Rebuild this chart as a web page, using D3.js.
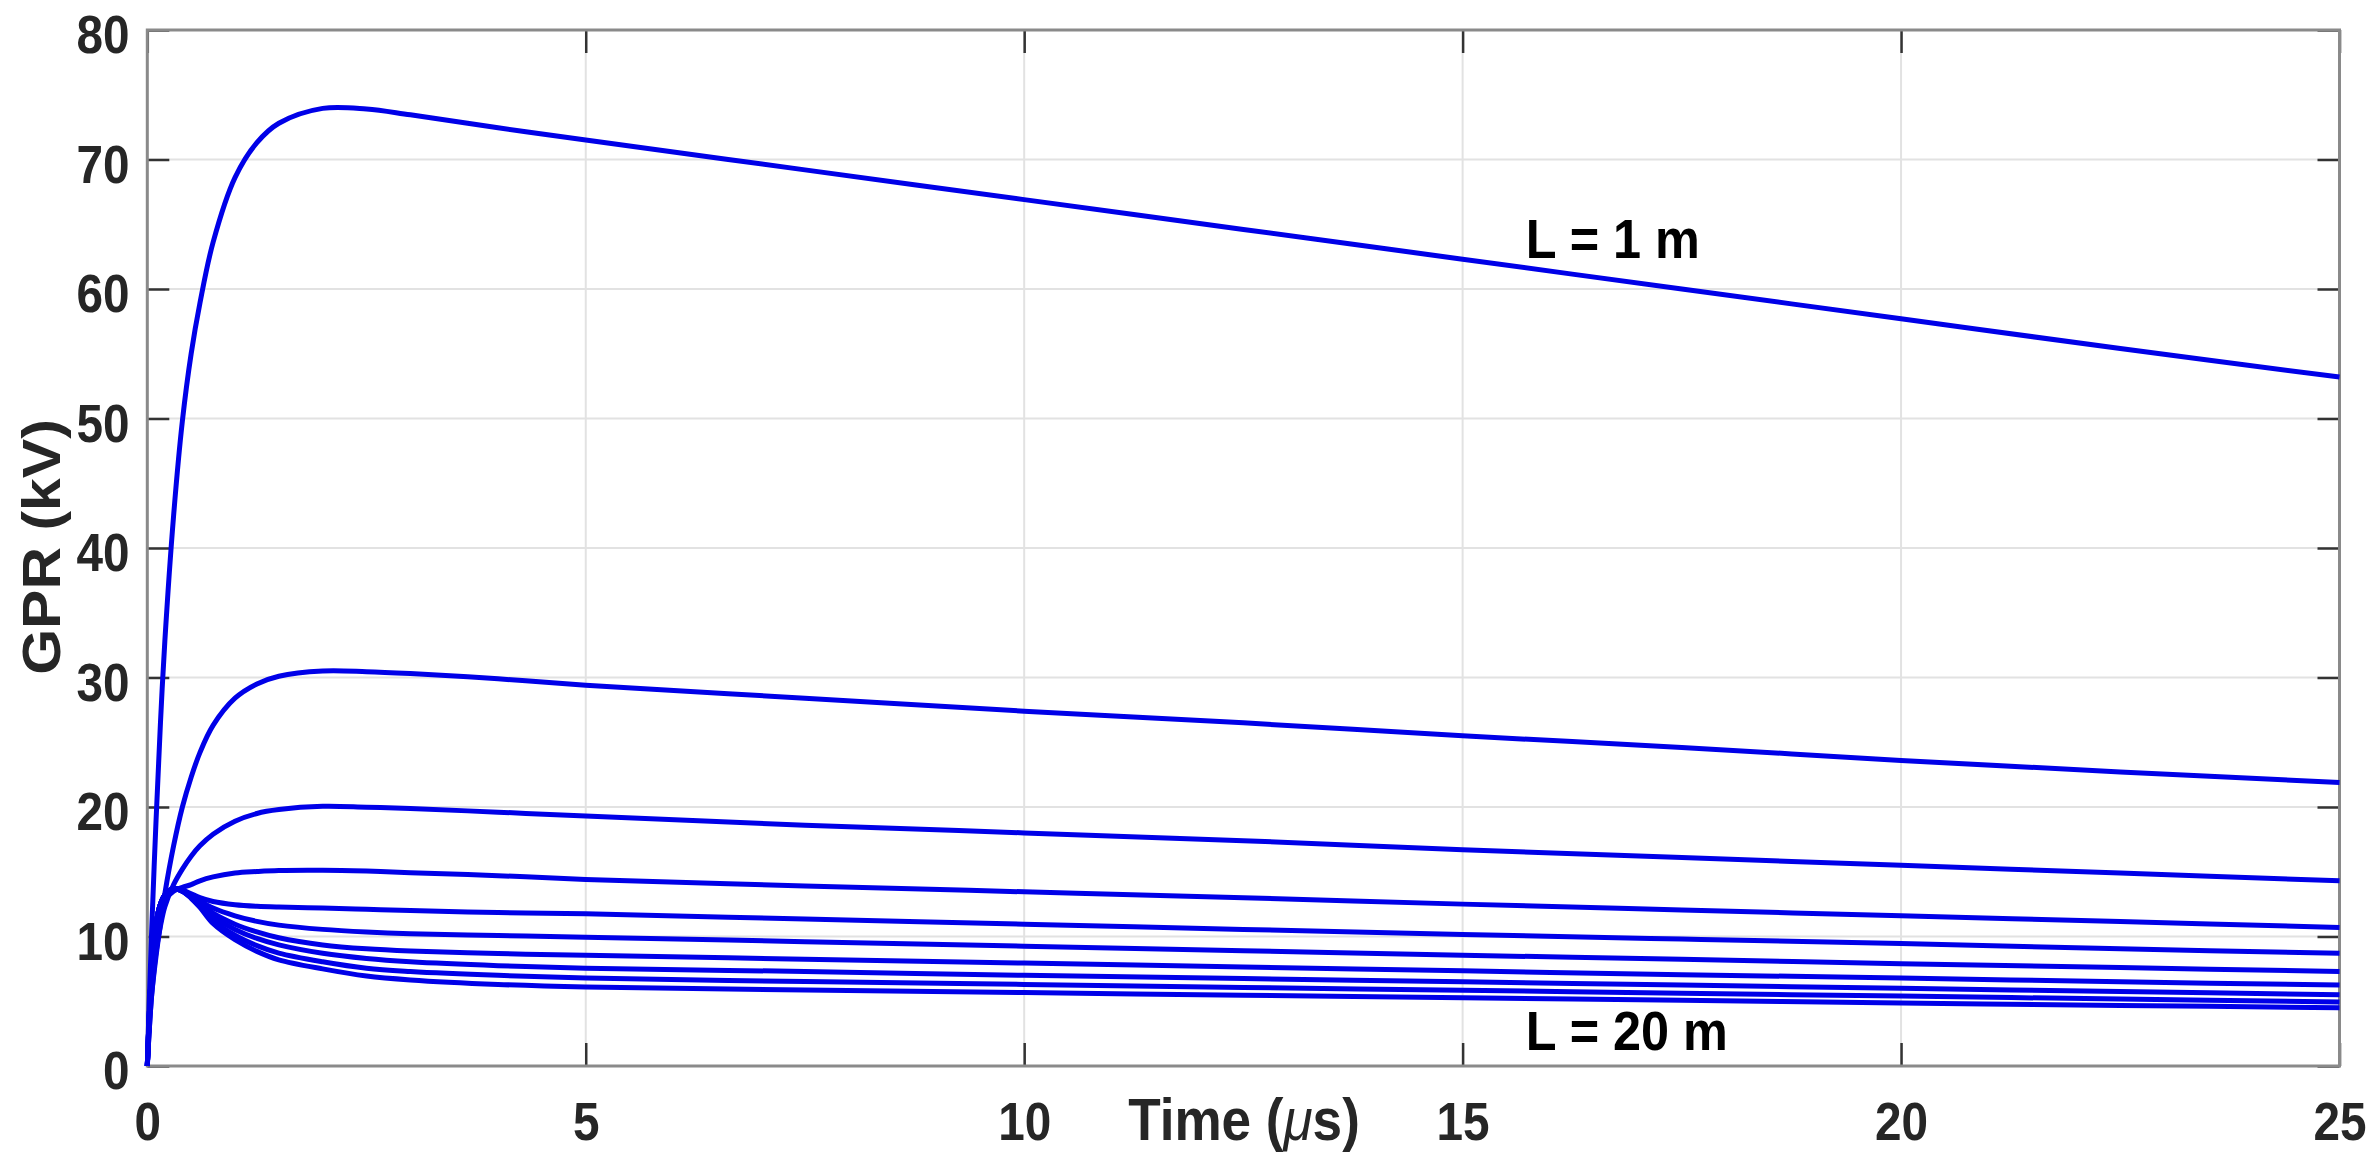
<!DOCTYPE html>
<html>
<head>
<meta charset="utf-8">
<script src="https://cdn.jsdelivr.net/npm/d3@7"></script>
<style>
  body { margin: 0; background: #fff; }
  text { font-family: "Liberation Sans", Arial, Helvetica, sans-serif; font-weight: bold; }
</style>
</head>
<body>
<div id="chart"></div>
<script>
// sample times (us)
var times = [0, 0.02, 0.05, 0.1, 0.15, 0.2, 0.3, 0.4, 0.5, 0.6, 0.75, 1, 1.25, 1.5, 2, 2.5, 3, 4, 5, 7.5, 10, 12.5, 15, 17.5, 20, 22.5, 25];

// GPR (kV) for each electrode length, L = 1 m at top down to L = 20 m
var gprL1 = [0, 4.5, 10.5, 19, 26.5, 32.8, 42.5, 49.8, 55, 58.9, 63.6, 68.6, 71.3, 72.8, 73.95, 73.9, 73.45, 72.45, 71.5, 69.2, 66.9, 64.6, 62.3, 60, 57.7, 55.4, 53.2];
var gprL2 = [0, 2.5, 5.5, 8.5, 11, 13.3, 17, 20, 22.3, 24.2, 26.3, 28.4, 29.5, 30.1, 30.5, 30.45, 30.3, 29.9, 29.4, 28.4, 27.4, 26.5, 25.5, 24.6, 23.6, 22.7, 21.9];
var gprL3 = [0, 2.5, 5.5, 8.8, 10.8, 12.3, 14.0, 15.2, 16.2, 17.0, 17.9, 18.9, 19.5, 19.8, 20.05, 19.98, 19.88, 19.6, 19.3, 18.6, 18.0, 17.4, 16.7, 16.1, 15.5, 14.9, 14.3];
var gprL4 = [0, 3, 6.5, 10, 11.8, 12.8, 13.5, 13.8, 14.0, 14.3, 14.6, 14.9, 15.02, 15.1, 15.12, 15.05, 14.93, 14.7, 14.4, 13.9, 13.45, 13.0, 12.5, 12.05, 11.6, 11.15, 10.7];
var gprL5 = [0, 3.5, 7.5, 11, 12.5, 13.2, 13.7, 13.6, 13.3, 13.0, 12.7, 12.45, 12.33, 12.27, 12.2, 12.1, 12.0, 11.85, 11.75, 11.35, 10.95, 10.55, 10.15, 9.8, 9.45, 9.05, 8.7];
var gprL6 = [0, 3.5, 7.5, 11, 12.5, 13.2, 13.7, 13.5, 13.15, 12.75, 12.2, 11.6, 11.17, 10.88, 10.55, 10.35, 10.22, 10.08, 9.95, 9.6, 9.25, 8.9, 8.55, 8.25, 7.9, 7.6, 7.3];
var gprL7 = [0, 3.5, 7.5, 11, 12.5, 13.2, 13.7, 13.5, 13.1, 12.55, 11.8, 10.95, 10.35, 9.9, 9.35, 9.05, 8.88, 8.68, 8.55, 8.25, 7.95, 7.65, 7.35, 7.05, 6.8, 6.5, 6.25];
var gprL8 = [0, 3.5, 7.5, 11, 12.5, 13.2, 13.7, 13.5, 13.05, 12.45, 11.5, 10.55, 9.85, 9.35, 8.7, 8.3, 8.05, 7.75, 7.55, 7.3, 7.0, 6.75, 6.5, 6.25, 6.0, 5.75, 5.5];
var gprL9 = [0, 3.5, 7.5, 11, 12.5, 13.2, 13.7, 13.5, 13.0, 12.35, 11.25, 10.1, 9.3, 8.72, 8.05, 7.55, 7.3, 7.0, 6.8, 6.52, 6.3, 6.07, 5.85, 5.62, 5.4, 5.17, 4.95];
var gprL10 = [0, 3.5, 7.5, 11, 12.5, 13.2, 13.7, 13.5, 12.95, 12.25, 11.0, 9.75, 8.85, 8.2, 7.5, 6.95, 6.65, 6.3, 6.1, 5.87, 5.67, 5.47, 5.27, 5.07, 4.87, 4.68, 4.5];

var series = [gprL1, gprL2, gprL3, gprL4, gprL5, gprL6, gprL7, gprL8, gprL9, gprL10];

var xTicks = [0, 5, 10, 15, 20, 25];
var yTicks = [0, 10, 20, 30, 40, 50, 60, 70, 80];

var annoText = ["L = 1 m", "L = 20 m"];
var annoT = [15.72, 15.72];
var annoV = [62.4, 1.24];

var W = 2374, H = 1159;
var plotL = 147.3, plotR = 2339.5, plotT = 30, plotB = 1066;
var squeeze = "scale(0.9,1)";

var svg = d3.select("#chart").append("svg")
  .attr("width", W)
  .attr("height", H);

var x = d3.scaleLinear().domain([0, 25]).range([plotL, plotR]);
var y = d3.scaleLinear().domain([0, 80]).range([plotB, plotT]);

// grid
svg.append("g").selectAll("line").data(xTicks).enter().append("line")
  .attr("x1", d => x(d)).attr("x2", d => x(d))
  .attr("y1", plotT).attr("y2", plotB)
  .attr("stroke", "#e2e2e2").attr("stroke-width", 2);
svg.append("g").selectAll("line").data(yTicks).enter().append("line")
  .attr("x1", plotL).attr("x2", plotR)
  .attr("y1", d => y(d)).attr("y2", d => y(d))
  .attr("stroke", "#e2e2e2").attr("stroke-width", 2);

// axes (ticks inward)
var xAxis = svg.append("g")
  .attr("transform", "translate(0," + plotB + ")")
  .call(d3.axisBottom(x).tickValues(xTicks).tickSizeInner(-23).tickSizeOuter(0).tickFormat(d3.format("d")));
var xTop = svg.append("g")
  .attr("transform", "translate(0," + plotT + ")")
  .call(d3.axisTop(x).tickValues(xTicks).tickSizeInner(-23).tickSizeOuter(0).tickFormat(""));
var yAxis = svg.append("g")
  .attr("transform", "translate(" + plotL + ",0)")
  .call(d3.axisLeft(y).tickValues(yTicks).tickSizeInner(-22).tickSizeOuter(0).tickFormat(d3.format("d")));
var yRight = svg.append("g")
  .attr("transform", "translate(" + plotR + ",0)")
  .call(d3.axisRight(y).tickValues(yTicks).tickSizeInner(-22).tickSizeOuter(0).tickFormat(""));

[xAxis, xTop, yAxis, yRight].forEach(function(g) {
  g.select(".domain").remove();
  g.selectAll(".tick line").attr("stroke", "#333").attr("stroke-width", 2.5);
});

xAxis.selectAll("text")
  .attr("y", 74).attr("dy", null)
  .attr("transform", squeeze)
  .attr("font-size", 53).attr("fill", "#262626");
yAxis.selectAll("text")
  .attr("x", -19.8).attr("dy", "0.43em")
  .attr("transform", squeeze)
  .attr("font-size", 53).attr("fill", "#262626");

// box
svg.append("rect")
  .attr("x", plotL).attr("y", plotT)
  .attr("width", plotR - plotL).attr("height", plotB - plotT)
  .attr("fill", "none").attr("stroke", "#8a8a8a").attr("stroke-width", 3);

// curves
var line = d3.line()
  .x((d, i) => x(times[i]))
  .y(d => y(d))
  .curve(d3.curveCatmullRom.alpha(0.5));

svg.append("g").selectAll("path").data(series).enter().append("path")
  .attr("d", line)
  .attr("fill", "none")
  .attr("stroke", "#0000e8")
  .attr("stroke-width", 5)
  .attr("stroke-linejoin", "round");

// labels
svg.append("text")
  .attr("transform", "translate(60,547) " + squeeze + " rotate(-90)")
  .attr("text-anchor", "middle")
  .attr("font-size", 59).attr("fill", "#262626")
  .text("GPR (kV)");

var xl = svg.append("text")
  .attr("transform", "translate(1244,1140) " + squeeze)
  .attr("text-anchor", "middle")
  .attr("font-size", 59).attr("fill", "#262626");
xl.append("tspan").text("Time (");
xl.append("tspan").attr("font-style", "italic").attr("font-weight", "normal").text("\u03bc");
xl.append("tspan").text("s)");

svg.append("g").selectAll("text").data(annoText).enter().append("text")
  .attr("transform", (d, i) => "translate(" + x(annoT[i]) + "," + y(annoV[i]) + ") " + squeeze)
  .attr("font-size", 56).attr("fill", "#000")
  .text(d => d);
</script>
</body>
</html>
